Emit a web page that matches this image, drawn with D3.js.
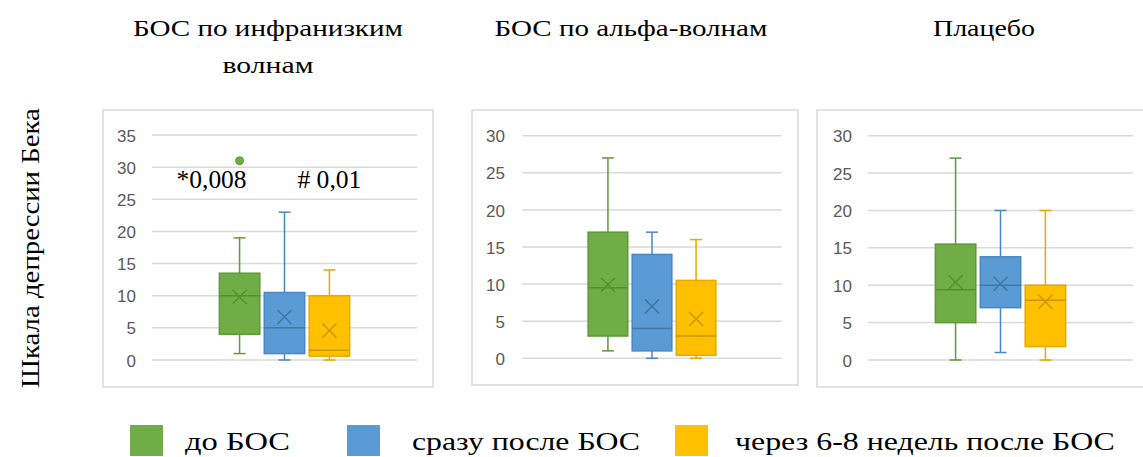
<!DOCTYPE html>
<html lang="ru">
<head>
<meta charset="utf-8">
<script src="https://cdn.jsdelivr.net/npm/d3@7"></script>
<style>
  html, body { margin: 0; padding: 0; background: #ffffff; }
  svg { display: block; }
</style>
</head>
<body>
<svg id="chart" width="1143" height="457"></svg>
<script>
// Beck depression scale scores: three feedback groups, three measurement points each
const groups = ["БОС по инфранизким волнам", "БОС по альфа-волнам", "Плацебо"];
const series = ["до БОС", "сразу после БОС", "через 6-8 недель после БОС"];

// Box-plot statistics per group (rows) and measurement point (columns)
const whiskerLow  = [[1, 0, 0],      [1, 0, 0],      [0, 1, 0]];
const quartile1   = [[4, 1, 0.6],    [3, 1, 0.4],    [5, 7, 1.8]];
const medians     = [[10, 5, 1.5],   [9.5, 4, 3],    [9.4, 10, 8]];
const quartile3   = [[13.5, 10.5, 10], [17, 14, 10.5], [15.5, 13.8, 10]];
const whiskerHigh = [[19, 23, 14],   [27, 17, 16],   [27, 20, 20]];
const means       = [[9.8, 6.7, 4.6], [9.9, 7, 5.3], [10.4, 10.2, 7.8]];
const outliers    = [[[31], [], []], [[], [], []], [[], [], []]];

// Axis ticks per group
const yTicks = [
  [0, 5, 10, 15, 20, 25, 30, 35],
  [0, 5, 10, 15, 20, 25, 30],
  [0, 5, 10, 15, 20, 25, 30]
];

// Significance labels in the first group
const noteTexts = ["*0,008", "# 0,01"];
const noteSeries = [0, 2];
const noteValue = 26.8;

const yTitle = "Шкала депрессии Бека";
const titleLines = [["БОС по инфранизким", "волнам"], ["БОС по альфа-волнам"], ["Плацебо"]];

// ---- layout & style ----
const fills   = ["#70AD47", "#5B9BD5", "#FFC000"];
const strokes = ["#5E9A38", "#4A87C2", "#E3AA00"];
const marks   = ["#548F30", "#41789F", "#C99700"];

const panels = [
  { frame: [103, 110, 433, 387], plot: [152, 417, 135, 360], labelX: 136, titleX: 268,
    titleLen: [270, 91], noteDx: [-28, 0], noteLen: [70, 64] },
  { frame: [472, 110, 798, 385], plot: [522, 782, 135.7, 358.3], labelX: 505, titleX: 631,
    titleLen: [273] },
  { frame: [817, 110, 1160, 387], plot: [868, 1133, 135.7, 360], labelX: 852, titleX: 984,
    titleLen: [102] }
];

const SERIF = '"Liberation Serif"';
const SANS = '"Liberation Sans"';
const svg = d3.select("#chart");

// Serif text stretched horizontally to a given width.
// A leading no-break space keeps the serif face as the primary font of the run;
// its advance is measured and taken out of the placement.
function serifText(parent, str, size, x, y, width, anchor, angle, lead) {
  const t = parent.append("text")
    .attr("x", 0).attr("y", 0)
    .attr("text-anchor", "start")
    .style("font-family", SERIF).style("font-size", size + "px")
    .attr("fill", "#000")
    .text(lead + str);
  const node = t.node();
  const total = node.getComputedTextLength();
  const lw = lead ? node.getSubStringLength(0, lead.length) : 0;
  const natural = total - lw;
  const sx = natural > 0 ? width / natural : 1;
  let shift = -lw * sx;
  if (anchor === "middle") shift -= width / 2;
  t.attr("transform", `translate(${x},${y}) rotate(${angle || 0}) translate(${shift},0) scale(${sx},1)`);
  return t;
}

panels.forEach((p, gi) => {
  const g = svg.append("g");
  const [fx0, fy0, fx1, fy1] = p.frame;
  g.append("rect")
    .attr("x", fx0).attr("y", fy0)
    .attr("width", fx1 - fx0).attr("height", fy1 - fy0)
    .attr("fill", "#fff").attr("stroke", "#d9d9d9").attr("stroke-width", 1.5);

  const [px0, px1, pyTop, pyBot] = p.plot;
  const ticks = yTicks[gi];
  const y = d3.scaleLinear().domain([0, d3.max(ticks)]).range([pyBot, pyTop]);
  const x = d3.scaleBand().domain(series).range([px0, px1])
    .paddingInner(0.1).paddingOuter(1.5);

  // gridlines
  g.append("g").selectAll("line").data(ticks).join("line")
    .attr("x1", px0).attr("x2", px1)
    .attr("y1", d => y(d)).attr("y2", d => y(d))
    .attr("stroke", "#d9d9d9").attr("stroke-width", 1.5);

  // value axis labels
  const axis = d3.axisLeft(y).tickValues(ticks).tickSize(0).tickPadding(0);
  const ax = g.append("g").attr("transform", `translate(${p.labelX},0)`).call(axis);
  ax.select(".domain").remove();
  ax.attr("font-family", null).attr("font-size", null);
  ax.selectAll("text")
    .style("font-family", SANS).style("font-size", "17px").attr("fill", "#595959")
    .attr("dy", "0.36em");

  // boxes
  series.forEach((s, si) => {
    const bw = x.bandwidth();
    const x0 = x(s), cx = x0 + bw / 2;
    const lo = whiskerLow[gi][si], hi = whiskerHigh[gi][si];
    const b1 = quartile1[gi][si], b3 = quartile3[gi][si];
    const cap = 12;
    const bg = g.append("g");

    bg.append("line").attr("x1", cx).attr("x2", cx)
      .attr("y1", y(hi)).attr("y2", y(b3))
      .attr("stroke", strokes[si]).attr("stroke-width", 1.5);
    bg.append("line").attr("x1", cx).attr("x2", cx)
      .attr("y1", y(b1)).attr("y2", y(lo))
      .attr("stroke", strokes[si]).attr("stroke-width", 1.5);
    [hi, lo].forEach(v => bg.append("line")
      .attr("x1", cx - cap / 2).attr("x2", cx + cap / 2)
      .attr("y1", y(v)).attr("y2", y(v))
      .attr("stroke", strokes[si]).attr("stroke-width", 1.5));

    bg.append("rect")
      .attr("x", x0).attr("y", y(b3))
      .attr("width", bw).attr("height", y(b1) - y(b3))
      .attr("fill", fills[si]).attr("stroke", strokes[si]).attr("stroke-width", 1.5);

    bg.append("line").attr("x1", x0).attr("x2", x0 + bw)
      .attr("y1", y(medians[gi][si])).attr("y2", y(medians[gi][si]))
      .attr("stroke", marks[si]).attr("stroke-width", 1.5);

    const my = y(means[gi][si]), m = 7;
    bg.append("path")
      .attr("d", `M${cx - m},${my - m}L${cx + m},${my + m}M${cx - m},${my + m}L${cx + m},${my - m}`)
      .attr("stroke", marks[si]).attr("stroke-width", 1.5).attr("fill", "none");

    bg.selectAll("circle.out").data(outliers[gi][si]).join("circle")
      .attr("class", "out")
      .attr("cx", cx).attr("cy", d => y(d)).attr("r", 4)
      .attr("fill", fills[si]).attr("stroke", strokes[si]).attr("stroke-width", 1);
  });

  // significance labels
  if (gi === 0) {
    noteTexts.forEach((t, k) => {
      const s = series[noteSeries[k]];
      serifText(g, t, 25, x(s) + x.bandwidth() / 2 + p.noteDx[k], y(noteValue),
        p.noteLen[k], "middle", 0, "");
    });
  }

  // group title
  titleLines[gi].forEach((line, li) => {
    serifText(svg, line, 24, p.titleX, 36 + li * 37, p.titleLen[li], "middle", 0, "\u00A0");
  });
});

// vertical axis title
serifText(svg, yTitle, 26, 39, 248, 280, "middle", -90, "\u200B");

// legend
const legendX = [130, 347, 675];
const legendTextX = [185, 412, 735];
const legendLen = [105, 228, 380];
const legend = svg.append("g");
series.forEach((s, i) => {
  legend.append("rect")
    .attr("x", legendX[i]).attr("y", 425).attr("width", 33).attr("height", 31)
    .attr("fill", fills[i]);
  serifText(legend, s, 26, legendTextX[i], 450, legendLen[i], "start", 0, "");
});
</script>
</body>
</html>
